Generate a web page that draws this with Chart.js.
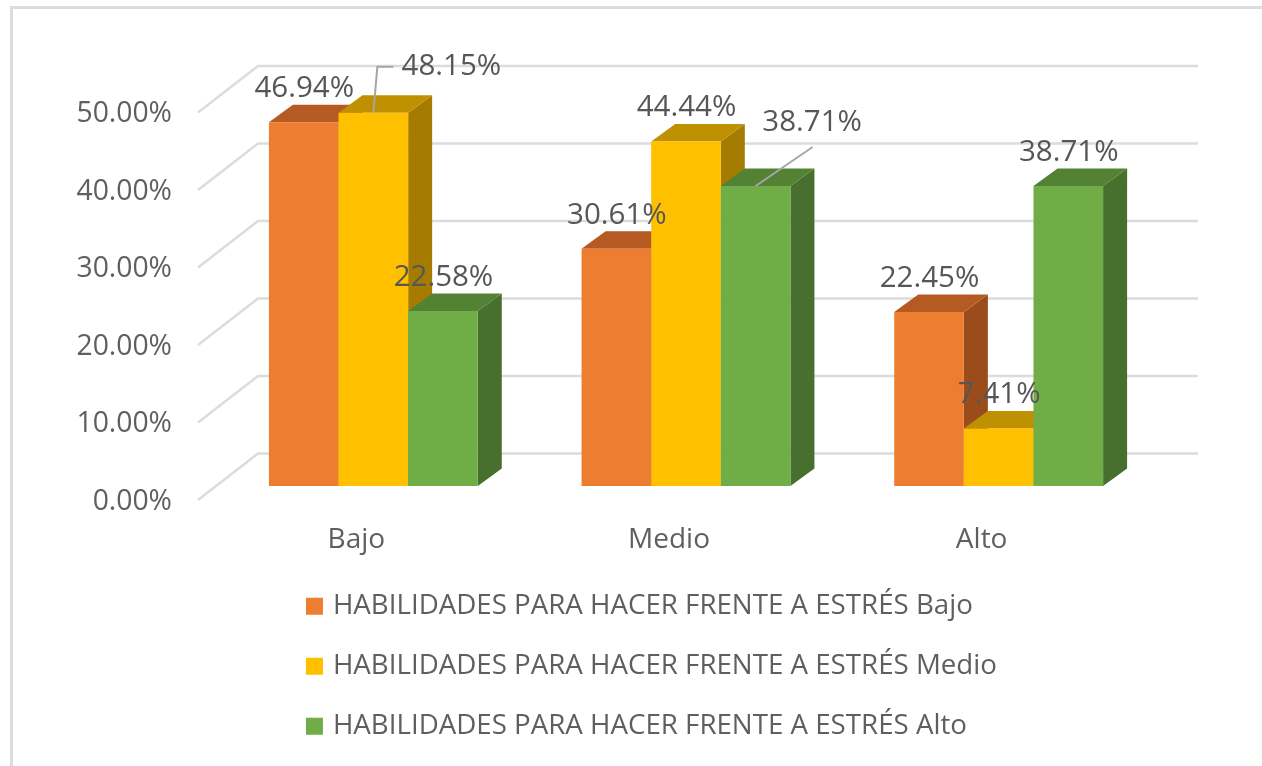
<!DOCTYPE html>
<html>
<head>
<meta charset="utf-8">
<title>Habilidades para hacer frente a estrés</title>
<script src="https://cdn.jsdelivr.net/npm/chart.js@4"></script>
<style>
	html, body { margin: 0; padding: 0; background: #fff; overflow: hidden; }
	#frame { position: absolute; left: 10px; top: 6px; right: 0; bottom: 0; border-left: 3px solid #dcdcdc; border-top: 3px solid #dcdcdc; pointer-events: none; }
</style>
</head>
<body>
<canvas id="myChart" width="1262" height="766"></canvas>
<div id="frame"></div>
<script>
var categories = ['Bajo', 'Medio', 'Alto'];
var seriesNames = [
	'HABILIDADES PARA HACER FRENTE A ESTRÉS Bajo',
	'HABILIDADES PARA HACER FRENTE A ESTRÉS Medio',
	'HABILIDADES PARA HACER FRENTE A ESTRÉS Alto'
];
var bajoValues = [46.94, 30.61, 22.45];
var medioValues = [48.15, 44.44, 7.41];
var altoValues = [22.58, 38.71, 38.71];
var yTicks = [0, 10, 20, 30, 40, 50];

var fontName = '"Open Sans", sans-serif';
var textColor = '#5f5f5f';
var gridColor = '#dcdcdc';
var leaderColor = '#a6a6a6';

// front, top and side colours of each series
var frontColors = ['#ed7d31', '#ffc000', '#70ad47'];
var topColors = ['#b55a22', '#bf9000', '#548235'];
var sideColors = ['#9a4d1b', '#a67c00', '#476f2d'];

var barDepth = { x: 24, y: -17.5 };
var wallFront = { x: 198, y: 14 };
var wallBack = { x: 258, y: -32.5 };
var wallRight = 1198;

function pct(v) {
	return v.toFixed(2) + '%';
}

function drawWall(chart) {
	var ctx = chart.ctx, y = chart.scales.y;
	ctx.save();
	ctx.strokeStyle = gridColor;
	ctx.lineWidth = 2.5;
	yTicks.forEach(function (t) {
		var p = y.getPixelForValue(t);
		ctx.beginPath();
		ctx.moveTo(wallFront.x, p + wallFront.y);
		ctx.lineTo(wallBack.x, p + wallBack.y);
		ctx.lineTo(wallRight, p + wallBack.y);
		ctx.stroke();
	});
	ctx.restore();
}

function drawFaces(chart, meta, i) {
	var ctx = chart.ctx;
	ctx.save();
	meta.data.forEach(function (bar) {
		var l = bar.x - bar.width / 2, r = bar.x + bar.width / 2;
		ctx.fillStyle = sideColors[i];
		ctx.beginPath();
		ctx.moveTo(r, bar.y);
		ctx.lineTo(r + barDepth.x, bar.y + barDepth.y);
		ctx.lineTo(r + barDepth.x, bar.base + barDepth.y);
		ctx.lineTo(r, bar.base);
		ctx.closePath();
		ctx.fill();
		ctx.fillStyle = topColors[i];
		ctx.beginPath();
		ctx.moveTo(l, bar.y);
		ctx.lineTo(l + barDepth.x, bar.y + barDepth.y);
		ctx.lineTo(r + barDepth.x, bar.y + barDepth.y);
		ctx.lineTo(r, bar.y);
		ctx.closePath();
		ctx.fill();
	});
	ctx.restore();
}

// fake 3d: the series have to paint left to right, the library goes the other way
var bars3dPlugin = {
	id: 'bars3d',
	beforeDatasetsDraw: function (chart) {
		drawWall(chart);
		chart.data.datasets.forEach(function (ds, i) {
			var meta = chart.getDatasetMeta(i);
			drawFaces(chart, meta, i);
			meta.controller.draw();
		});
		return false;
	}
};

// labels that Excel moved away from their bar, with a leader line
var movedLabels = {
	'1-0': { dx: 78, dy: -46, line: [[0, 0], [4, -46], [20, -46]] },
	'2-1': { dx: 56.5, dy: -63, line: [[0, 0], [57, -39]] }
};

var labelsPlugin = {
	id: 'barLabels',
	afterDraw: function (chart) {
		var ctx = chart.ctx;
		ctx.save();
		ctx.font = '29.5px ' + fontName;
		ctx.textAlign = 'center';
		ctx.textBaseline = 'middle';
		chart.data.datasets.forEach(function (ds, i) {
			chart.getDatasetMeta(i).data.forEach(function (bar, j) {
				var moved = movedLabels[i + '-' + j];
				if (moved) {
					ctx.strokeStyle = leaderColor;
					ctx.lineWidth = 2;
					ctx.beginPath();
					moved.line.forEach(function (pt, k) {
						if (k === 0) ctx.moveTo(bar.x + pt[0], bar.y + pt[1]);
						else ctx.lineTo(bar.x + pt[0], bar.y + pt[1]);
					});
					ctx.stroke();
				}
				ctx.fillStyle = '#565656';
				ctx.fillText(pct(ds.data[j]), bar.x + (moved ? moved.dx : 0.5), bar.y + (moved ? moved.dy : -33.5));
			});
		});
		ctx.restore();
	}
};

// legend rows sit left aligned under the plot, not over the whole width
var legendPlugin = {
	id: 'legendPlace',
	afterLayout: function (chart) {
		chart.legend.left = 277.5;
		chart.legend.top = 560;
	}
};

var myChart = new Chart(document.getElementById('myChart').getContext('2d'), {
	type: 'bar',
	data: {
		labels: categories,
		datasets: [
			{ label: seriesNames[0], data: bajoValues, backgroundColor: frontColors[0] },
			{ label: seriesNames[1], data: medioValues, backgroundColor: frontColors[1] },
			{ label: seriesNames[2], data: altoValues, backgroundColor: frontColors[2] }
		]
	},
	options: {
		responsive: false,
		animation: false,
		categoryPercentage: 0.668,
		barPercentage: 1,
		layout: { padding: { top: 98.5, right: 107 } },
		plugins: {
			tooltip: { enabled: false },
			legend: {
				position: 'bottom',
				align: 'start',
				labels: {
					// small box + thick border: gives the 17px swatch closer to its text
					boxWidth: 9.3,
					boxHeight: 9.3,
					padding: 32.3,
					color: textColor,
					font: { family: fontName, size: 27.7 },
					generateLabels: function (chart) {
						var items = Chart.defaults.plugins.legend.labels.generateLabels(chart);
						items.forEach(function (item) {
							item.strokeStyle = item.fillStyle;
							item.lineWidth = 7.7;
						});
						return items;
					}
				}
			}
		},
		scales: {
			x: {
				grid: { display: false, drawTicks: false },
				border: { display: false },
				ticks: {
					color: textColor,
					font: { family: fontName, size: 28 },
					padding: 37,
					labelOffset: -17,
					maxRotation: 0
				},
				afterFit: function (s) { s.height = 90; }
			},
			y: {
				min: 0,
				max: 50,
				afterBuildTicks: function (s) {
					s.ticks = yTicks.map(function (v) { return { value: v }; });
				},
				grid: { display: false, drawTicks: false },
				border: { display: false },
				ticks: {
					color: textColor,
					font: { family: fontName, size: 28.3 },
					padding: 45,
					labelOffset: 15.5,
					callback: function (v) { return pct(v); }
				},
				afterFit: function (s) { s.width = 217; }
			}
		}
	},
	plugins: [bars3dPlugin, labelsPlugin, legendPlugin]
});
</script>
</body>
</html>
